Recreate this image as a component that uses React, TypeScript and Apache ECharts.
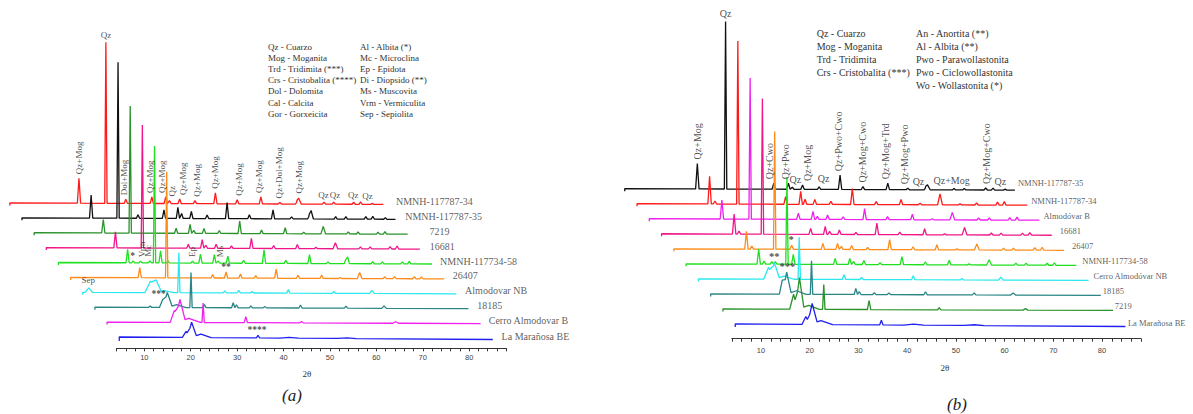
import React, { useEffect, useRef } from "react";
import * as echarts from "echarts";

type Peak = [number, number, number?];

// ---------------- Panel (a) ----------------
const leftNames = ["NMNH-117787-34", "NMNH-117787-35", "7219", "16681", "NMNH-117734-58", "26407", "Almodovar NB", "18185", "Cerro Almodovar B", "La Marañosa BE"];
const leftColors = ["#ff1a1a", "#111111", "#2a922a", "#f0168a", "#1fe01f", "#ff8c1a", "#2ae8ee", "#2a8585", "#f020f0", "#2020f0"];
const leftNameGap = [12.6, 9.7, 21.7, 9.8, 8.1, 8.7, 8.8, 8.7, 8.1, 8.8];
const leftDrift = [-1.5, -1.5, -1.5, -1.5, -1.5, -1.5, -1.5, -1.5, -1.5, -2.5];
const leftHook = [-2.5, -2.5, -2.5, -2.5, -2.5, -2.5, -2.5, -2.5, -2.5, -4];

const aPeaks34: Peak[] = [[20.8, 25], [26.6, 161, 0.25], [30.9, 4], [36.5, 6.5], [39.5, 6.5], [40.3, 3], [42.5, 4.5], [45.8, 3], [50.2, 11], [54.9, 4], [60.0, 7], [64.1, 1.5], [67.8, 2.5], [68.2, 6.5, 0.5], [73.6, 2], [75.7, 2], [80.0, 2], [81.5, 2.5], [84.0, 1]];
const aPeaks35: Peak[] = [[20.8, 23], [26.6, 156, 0.25], [30.9, 3.5], [36.5, 8.5], [39.5, 11], [40.3, 5], [42.4, 7], [45.8, 3.5], [50.1, 16], [54.9, 4], [60.0, 9], [64.0, 2], [67.8, 3], [68.2, 8.5, 0.5], [73.5, 2.5], [75.7, 2.5], [80.0, 2.5], [81.5, 3], [84.2, 1.5]];
const aPeaks7219: Peak[] = [[20.8, 13.5], [26.6, 127, 0.25], [36.5, 5], [39.5, 9], [40.3, 3], [42.5, 5], [45.8, 3], [50.2, 12.5], [54.9, 3.5], [60.0, 6], [64.0, 1.5], [68.2, 7.5, 0.5], [73.6, 2], [75.7, 2], [80.0, 2], [81.5, 2.5]];
const aPeaks16681: Peak[] = [[20.8, 16], [26.6, 123, 0.25], [36.5, 4], [39.5, 8.5], [40.3, 3], [42.5, 4], [45.8, 2.5], [50.1, 10], [54.9, 3], [60.0, 4], [64.0, 1.5], [68.2, 6, 0.5], [73.6, 2], [75.7, 2], [80.0, 2.5], [81.5, 3]];
const aPeaks58: Peak[] = [[20.8, 13.5], [22.0, 2], [23.6, 1.5], [25.6, 2], [26.6, 117, 0.25], [27.9, 12], [29.5, 2], [34.8, 2], [36.5, 9], [39.5, 8.5], [40.3, 2], [42.4, 7], [45.8, 3], [50.2, 13.5], [54.9, 3], [60.0, 9], [64.0, 1.5], [67.8, 4], [68.2, 7, 0.4], [73.6, 2], [75.7, 2], [80.0, 2], [81.5, 2.5]];
const aPeaks26407: Peak[] = [[20.8, 10], [26.6, 106, 0.25], [36.5, 3.5], [39.4, 6], [42.5, 4], [45.8, 2.5], [50.2, 9], [54.9, 3], [60.0, 3.5], [64.0, 1], [68.2, 6, 0.5], [73.6, 2], [75.7, 2], [80.0, 2], [81.5, 2]];
const aPeaksAlmNB: Peak[] = [[7.2, 4.5, 0.8], [20.5, 11.5, 1.2], [21.7, 12.5, 1.1], [23.5, 2, 2], [26.6, 40, 0.25], [36.5, 2], [39.5, 2.5], [42.4, 1.5], [50.2, 3.5], [60.0, 2], [68.2, 3, 0.5]];
const aPeaks18185: Peak[] = [[17.8, 1.5], [20.5, 8, 0.7], [21.5, 15, 1.0], [23.5, 3, 2.0], [26.6, 35, 0.25], [29.5, 3], [35.7, 5], [36.4, 3], [39.5, 2], [42.5, 1.5], [50.2, 3], [60.0, 2], [68.2, 2.5, 0.5]];
const aPeaksCerro: Peak[] = [[20.4, 12, 0.9], [21.6, 22, 1.1], [23.5, 4, 2.5], [26.6, 19.5, 0.25], [35.8, 6], [47.8, 1.5], [68.1, 1.5, 0.6]];
const aPeaksMaranosa: Peak[] = [[20.3, 6, 0.8], [21.5, 15, 1.0], [23.5, 3.5, 2.2], [35.8, 2.7, 0.35], [42.5, 0.8, 2], [55, 0.6, 2]];
const leftPeakSets = [aPeaks34, aPeaks35, aPeaks7219, aPeaks16681, aPeaks58, aPeaks26407, aPeaksAlmNB, aPeaks18185, aPeaksCerro, aPeaksMaranosa];

// [2θ, text, rotated]
const leftTopLabels: [number, string, number][] = [
  [20.8, "Qz+Mog", 1], [26.6, "Qz", 0], [30.4, "Dol+Mog", 1], [36.1, "Qz+Mog", 1], [38.6, "Qz+Mog", 1], [40.9, "Qz", 1],
  [43.2, "Qz+Mog", 1], [46.3, "Qz+Mog", 1], [50.1, "Qz+Mog", 1], [55.2, "Qz+Mog", 1], [59.7, "Qz+Mog", 1],
  [63.9, "Qz+Dol+Mog", 1], [68.2, "Qz+Mog", 1], [73.5, "Qz", 0], [76.0, "Qz", 0], [79.9, "Qz", 0], [83.0, "Qz", 0],
];
// [trace index, 2θ, text, rotated]
const leftMarkers: [number, number, string, number][] = [
  [4, 21.9, "*", 0], [4, 23.8, "Vrm", 1], [4, 25.3, "Mc", 1], [4, 34.7, "Ep", 1], [4, 40.8, "Ms", 1],
  [5, 39.4, "**", 0], [6, 7.1, "Sep", 0], [7, 19.6, "***", 0], [9, 35.6, "****", 0],
];
const leftLegendA = ["Qz - Cuarzo", "Mog - Moganita", "Trd - Tridimita (***)", "Crs - Cristobalita (****)", "Dol - Dolomita", "Cal - Calcita", "Gor - Gorxeicita"];
const leftLegendB = ["Al - Albita (*)", "Mc - Microclina", "Ep - Epidota", "Di - Diopsido (**)", "Ms - Muscovita", "Vrm - Vermiculita", "Sep - Sepiolita"];

// ---------------- Panel (b) ----------------
const rightNames = ["NMNH-117787-35", "NMNH-117787-34", "Almodóvar B", "16681", "26407", "NMNH-117734-58", "Cerro Almodóvar NB", "18185", "7219", "La Marañosa BE"];
const rightColors = ["#111111", "#ff1a1a", "#f020f0", "#f0168a", "#ff8c1a", "#1fe01f", "#2ae8ee", "#2a8585", "#2a922a", "#2020f0"];
const rightNameGap = [3, 4, 4, 8, 8, 6, 5, 2, 1.5, 2.5];
const rightNameLift = [7, 4, 4, 4, 4, 4, 4, 4, 4, 4];
const rightDrift = [-1.5, -1.5, -1.5, -1.5, -1.5, -1.5, -1.5, -1.5, -1.5, -2.5];
const rightHook = [-2.5, -2.5, -2.5, -2.5, -2.5, -2.5, -2.5, -2.5, -2.5, -3];

const bPeaks35: Peak[] = [[20.8, 25.5], [26.6, 167.5, 0.25], [36.5, 6], [39.5, 6], [40.3, 2], [42.4, 4.3], [45.8, 2.5], [50.1, 14.3], [54.8, 3], [59.9, 6.5], [64.0, 1.5], [67.7, 2.5], [68.1, 5.5, 0.5], [73.5, 1.5], [75.6, 1.5], [80.0, 2], [81.5, 2], [84, 1]];
const bPeaks34: Peak[] = [[20.8, 27.7], [21.9, 3], [26.6, 163, 0.25], [36.4, 7.7], [39.5, 13], [40.4, 5], [42.4, 5], [45.7, 3], [50.1, 16], [55.0, 3], [60.1, 5.3], [64, 1.5], [68.1, 11, 0.5], [72.2, 1], [75.6, 2], [79.9, 3], [81.3, 3.5]];
const bPeaksAlmB: Peak[] = [[20.8, 19], [26.6, 141, 0.25], [36.5, 6], [39.5, 8], [40.4, 3], [42.5, 4.5], [45.7, 2.5], [50.1, 11], [54.8, 3], [59.9, 5.5], [64, 1], [68.1, 7.5, 0.5], [73.5, 2], [75.7, 2], [79.9, 2.5], [81.4, 3]];
const bPeaks16681: Peak[] = [[20.8, 20], [21.8, 3], [26.6, 135.7, 0.25], [36.5, 6], [39.5, 8], [40.4, 3], [42.4, 4.5], [45.8, 2], [50.1, 11.5], [54.8, 2.5], [59.9, 6], [64, 1], [68.1, 7.5, 0.5], [73.6, 2], [75.6, 2], [80, 2], [81.5, 2.5]];
const bPeaks26407: Peak[] = [[20.8, 17.7], [21.9, 3], [26.6, 117.7, 0.25], [30.1, 4], [36.5, 6], [39.5, 6], [40.3, 3], [42.4, 4], [45.7, 2], [50.2, 10], [55, 3], [59.9, 5], [64, 1], [68.1, 6, 0.5], [73.6, 2], [75.6, 2], [80, 2.5], [81.5, 3]];
const bPeaks58: Peak[] = [[20.8, 15], [21.9, 3], [23.5, 2.5], [24.2, 2.5], [26.6, 87, 0.25], [27.9, 10], [36.5, 6], [39.5, 6], [40.3, 3], [42.4, 4], [45.7, 2], [50.2, 8], [55, 3], [59.9, 4.6], [64, 1], [68.1, 5.3, 0.5], [73.6, 2], [75.7, 2], [80, 2], [81.5, 2.5]];
const bPeaksCerroNB: Peak[] = [[20.3, 12, 1.0], [21.5, 16.5, 1.0], [23.5, 3, 2], [26.6, 42, 0.25], [35.8, 4.6], [39.4, 2], [50.0, 4], [60, 1.5], [68, 3, 0.5]];
const bPeaks18185: Peak[] = [[20.6, 14, 0.6], [21.5, 22, 0.9], [23.5, 3.5, 2], [26.6, 33.5, 0.25], [35.7, 6], [36.4, 3], [39.5, 2], [42.5, 1.5], [50.0, 3], [60, 2], [68, 2, 0.5]];
const bPeaks7219: Peak[] = [[20.4, 15, 0.8], [21.6, 31, 0.9], [23.5, 4, 2.2], [26.6, 24.7, 0.25], [35.9, 9], [50.3, 2], [68, 1.5, 0.5]];
const bPeaksMaranosa: Peak[] = [[20.4, 8, 0.8], [21.7, 20, 1.0], [23.5, 4, 2.4], [35.9, 4.6, 0.35], [42.5, 1, 2], [55, 0.8, 2]];
const rightPeakSets = [bPeaks35, bPeaks34, bPeaksAlmB, bPeaks16681, bPeaks26407, bPeaks58, bPeaksCerroNB, bPeaks18185, bPeaks7219, bPeaksMaranosa];

const rightTopLabels: [number, string, number][] = [
  [20.8, "Qz+Mog", 1], [26.6, "Qz", 0], [35.6, "Qz+Cwo", 1], [38.8, "Qz+Pwo", 1], [40.9, "Qz", 0], [43.5, "Qz+Mog", 1],
  [46.7, "Qz", 0], [49.8, "Qz+Pwo+Cwo", 1], [54.8, "Qz+Mog+Cwo", 1], [59.5, "Qz+Mog+Trd", 1], [63.3, "Qz+Mog+Pwo", 1],
  [66.2, "Qz", 0], [73.0, "Qz+Mog", 0], [80.2, "Qz+Mog+Cwo", 1], [83.0, "Qz", 0],
];
const rightMarkers: [number, number, string, number][] = [[4, 30.0, "*", 0], [5, 24.0, "**", 0], [7, 21.65, "***", 0]];
const rightLegendA = ["Qz - Cuarzo", "Mog - Moganita", "Trd - Tridimita", "Crs - Cristobalita (***)"];
const rightLegendB = ["An - Anortita (**)", "Al - Albita (**)", "Pwo - Parawollastonita", "Pwo - Ciclowollastonita", "Wo - Wollastonita (*)"];

const TICK_LABELS = [10, 20, 30, 40, 50, 60, 70, 80];

// ---------------- layout ----------------
const SERIF = '"Liberation Serif", "Times New Roman", serif';
const SANS = '"Liberation Sans", Arial, sans-serif';
const DEFAULT_HW = 0.35;

interface PanelCfg {
  dataGrid: { left: number; top: number; width: number; height: number };
  dataMin: number; dataMax: number;
  axisGrid: { left: number; top: number; width: number; height: number };
  range: [number, number];
  shift0: number; shiftStep: number; base0: number; baseStep: number;
  names: string[]; colors: string[]; peaks: Peak[][]; drift: number[]; hook: number[];
  nameGap: number[]; nameLift: number[]; nameSize: number;
  topLabels: [number, string, number][]; markers: [number, number, string, number][];
  labelSize: number; labelMargin: number;
}

const tri = (x: number, p: Peak) => {
  const w = p[2] ?? DEFAULT_HW;
  const d = Math.abs(x - p[0]);
  return d >= w ? 0 : p[1] * (1 - d / w);
};
const sumPeaks = (peaks: Peak[], x: number) => peaks.reduce((s, p) => s + tri(x, p), 0);
const localH = (peaks: Peak[], x: number, win: number) => peaks.reduce((m, p) => (Math.abs(p[0] - x) <= win ? Math.max(m, p[1]) : m), 0);

function buildPanel(cfg: PanelCfg, gi: number) {
  const n = cfg.names.length;
  const series: any[] = [];
  const labelData: any[] = [];
  const shiftOf = (i: number) => cfg.shift0 - cfg.shiftStep * (n - 1 - i);
  const baseOf = (i: number) => cfg.base0 + cfg.baseStep * (n - 1 - i);
  const bl = (i: number, x: number) => baseOf(i) + cfg.drift[i] * (x - cfg.range[0]) / (cfg.range[1] - cfg.range[0]);

  for (let i = 0; i < n; i++) {
    const peaks = cfg.peaks[i];
    const xs = new Set<number>([cfg.range[0], cfg.range[1]]);
    peaks.forEach((p) => {
      const w = p[2] ?? DEFAULT_HW;
      [p[0] - w, p[0], p[0] + w].forEach((v) => {
        if (v > cfg.range[0] && v < cfg.range[1]) xs.add(Math.round(v * 1000) / 1000);
      });
    });
    const sorted = Array.from(xs).sort((a, b) => a - b);
    const sh = shiftOf(i);
    const pts: number[][] = [[cfg.range[0] + sh, baseOf(i) + cfg.hook[i]]];
    sorted.forEach((x) => pts.push([x + sh, bl(i, x) + sumPeaks(peaks, x)]));
    series.push({
      type: "line", xAxisIndex: gi, yAxisIndex: gi, data: pts, showSymbol: false, symbol: "none",
      clip: false, silent: true, lineStyle: { color: cfg.colors[i], width: 1.3 }, itemStyle: { color: cfg.colors[i] },
    });
    labelData.push({
      value: [cfg.range[1] + sh, bl(i, cfg.range[1]) + cfg.nameLift[i]],
      label: {
        show: true, formatter: cfg.names[i], position: "inside", align: "left", verticalAlign: "middle",
        offset: [cfg.nameGap[i], 0], fontSize: cfg.nameSize, fontFamily: SERIF, color: "#333",
      },
    });
  }

  const pushLabel = (i: number, x: number, text: string, rot: number, win: number) => {
    const isStar = /^\*+$/.test(text);
    const h = localH(cfg.peaks[i], x, win);
    const gap = isStar ? 0 : rot ? 4 : 3;
    labelData.push({
      value: [x + shiftOf(i), bl(i, x) + h + gap],
      label: {
        show: true, formatter: text, position: "inside", rotate: rot ? 90 : 0,
        align: rot ? "left" : "center", verticalAlign: rot ? "middle" : "bottom",
        fontSize: isStar ? cfg.labelSize + 0.5 : cfg.labelSize, fontWeight: isStar ? "bold" : "normal",
        fontFamily: SERIF, color: "#222",
      },
    });
  };
  cfg.topLabels.forEach(([x, t, r]) => pushLabel(0, x, t, r, 1.2));
  cfg.markers.forEach(([i, x, t, r]) => pushLabel(i, x, t, r, 1.0));

  series.push({
    type: "scatter", xAxisIndex: gi, yAxisIndex: gi, data: labelData, symbol: "circle", symbolSize: 1,
    itemStyle: { color: "rgba(0,0,0,0)" }, clip: false, silent: true, z: 5,
  });
  return series;
}

// px per degree: left 4.64, right 4.871 (data grid and axis grid share it)
const leftCfg: PanelCfg = {
  dataGrid: { left: 5.1, top: 20, width: 519.7, height: 328.3 }, dataMin: -20, dataMax: 92,
  axisGrid: { left: 116.5, top: 20, width: 389.8, height: 328.3 },
  range: [5.9, 86.4], shift0: -1.3, shiftStep: 2.62, base0: 11.3, baseStep: 14.9,
  names: leftNames, colors: leftColors, peaks: leftPeakSets, drift: leftDrift, hook: leftHook,
  nameGap: leftNameGap, nameLift: [3, 3, 3, 3, 3, 3, 3, 3, 3, 3], nameSize: 10,
  topLabels: leftTopLabels, markers: leftMarkers, labelSize: 9, labelMargin: 5,
};
const rightCfg: PanelCfg = {
  dataGrid: { left: 614.9, top: 20, width: 526.1, height: 318.7 }, dataMin: -20, dataMax: 88,
  axisGrid: { left: 731.8, top: 20, width: 409.2, height: 318.7 },
  range: [5.9, 86.0], shift0: -1.2, shiftStep: 2.52, base0: 14.7, baseStep: 15.04,
  names: rightNames, colors: rightColors, peaks: rightPeakSets, drift: rightDrift, hook: rightHook,
  nameGap: rightNameGap, nameLift: rightNameLift, nameSize: 8.5,
  topLabels: rightTopLabels, markers: rightMarkers, labelSize: 10, labelMargin: 7.5,
};

function visibleXAxis(gi: number, margin: number) {
  return {
    gridIndex: gi, type: "value", min: 4, max: 88, interval: 2,
    axisLine: { show: true, lineStyle: { color: "#333", width: 1 } },
    axisTick: { show: true, length: 3, lineStyle: { color: "#333", width: 1 } },
    axisLabel: {
      formatter: (v: number) => (TICK_LABELS.includes(Math.round(v)) && Math.abs(v - Math.round(v)) < 1e-6 ? String(Math.round(v)) : ""),
      fontSize: 7.5, color: "#444", margin, fontFamily: SANS,
    },
    splitLine: { show: false },
  };
}
const hiddenXAxis = (gi: number, min: number, max: number) => ({ gridIndex: gi, type: "value", min, max, show: false, splitLine: { show: false } });

export default function App() {
  const ref = useRef<HTMLDivElement>(null);
  useEffect(() => {
    if (!ref.current) return;
    const chart = echarts.init(ref.current, undefined, { renderer: "svg" });
    const legendText = (x: number, y: number, lines: string[], size: number, lh: number) => ({
      type: "text", left: x, top: y, silent: true,
      style: { text: lines.join("\n"), fill: "#333", font: `${size}px ${SERIF}`, lineHeight: lh },
    });
    const g = (r: any) => ({ ...r, containLabel: false, outerBoundsMode: "none" });
    const option: any = {
      animation: false,
      backgroundColor: "#ffffff",
      grid: [g(leftCfg.dataGrid), g(rightCfg.dataGrid), g(leftCfg.axisGrid), g(rightCfg.axisGrid)],
      xAxis: [
        hiddenXAxis(0, leftCfg.dataMin, leftCfg.dataMax),
        hiddenXAxis(1, rightCfg.dataMin, rightCfg.dataMax),
        visibleXAxis(2, leftCfg.labelMargin),
        visibleXAxis(3, rightCfg.labelMargin),
      ],
      yAxis: [
        { gridIndex: 0, type: "value", min: 0, max: leftCfg.dataGrid.height, show: false, splitLine: { show: false } },
        { gridIndex: 1, type: "value", min: 0, max: rightCfg.dataGrid.height, show: false, splitLine: { show: false } },
        { gridIndex: 2, type: "value", min: 0, max: 1, show: false, splitLine: { show: false } },
        { gridIndex: 3, type: "value", min: 0, max: 1, show: false, splitLine: { show: false } },
      ],
      series: [...buildPanel(leftCfg, 0), ...buildPanel(rightCfg, 1)],
      graphic: [
        legendText(268, 41.1, leftLegendA, 9, 11.2),
        legendText(360, 41.1, leftLegendB, 9, 11.2),
        legendText(816.7, 26.8, rightLegendA, 10, 13.1),
        legendText(916, 26.8, rightLegendB, 10, 13.1),
        { type: "text", x: 307, y: 374.4, silent: true, style: { text: "2θ", fill: "#333", font: `9px ${SERIF}`, align: "center", verticalAlign: "middle" } },
        { type: "text", x: 945, y: 367.6, silent: true, style: { text: "2θ", fill: "#333", font: `9px ${SERIF}`, align: "center", verticalAlign: "middle" } },
        { type: "text", x: 292, y: 395.5, silent: true, style: { text: "(a)", fill: "#222", font: `italic 17px ${SERIF}`, align: "center", verticalAlign: "middle" } },
        { type: "text", x: 957, y: 404, silent: true, style: { text: "(b)", fill: "#222", font: `italic 17px ${SERIF}`, align: "center", verticalAlign: "middle" } },
      ],
    };
    chart.setOption(option);
    return () => chart.dispose();
  }, []);
  return <div ref={ref} style={{ position: "fixed", left: 0, top: 0, width: 1193, height: 414, background: "#fff" }} />;
}
